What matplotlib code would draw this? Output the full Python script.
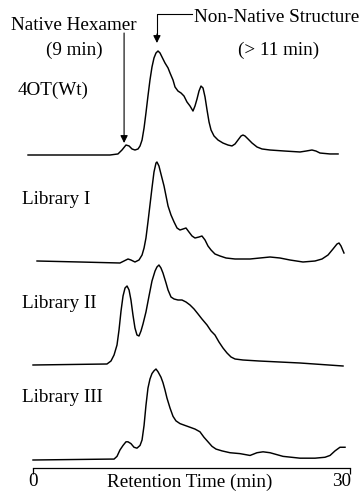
import numpy as np
import matplotlib
matplotlib.use("Agg")
import matplotlib.pyplot as plt

plt.rcParams['font.family'] = ['Liberation Serif', 'DejaVu Serif']

# retention time (min) and relative absorbance (main peak = 1) for each run
t_wt = [-0.47, 7.29, 8.04, 8.42, 8.80, 9.09, 9.37, 9.65, 9.94, 10.13, 10.32,
        10.51, 10.69, 10.88, 11.07, 11.26, 11.45, 11.64, 11.83, 12.02, 12.21,
        12.49, 12.78, 12.97, 13.25, 13.44, 13.72, 14.01, 14.29, 14.57, 14.86,
        15.14, 15.33, 15.52, 15.71, 15.90, 16.09, 16.28, 16.47, 16.66, 16.85,
        17.13, 17.51, 17.98, 18.45, 18.83, 19.12, 19.40, 19.69, 19.87, 20.06,
        20.35, 20.73, 21.20, 21.67, 22.43, 23.85, 25.27, 25.84, 26.40, 26.78,
        27.16, 28.11, 28.87]
a_wt = [0.0, 0.0, 0.010, 0.048, 0.096, 0.087, 0.058, 0.048, 0.058, 0.087, 0.144,
        0.260, 0.404, 0.567, 0.721, 0.846, 0.933, 0.981, 1.0, 0.981, 0.942,
        0.885, 0.837, 0.788, 0.721, 0.654, 0.615, 0.596, 0.567, 0.510, 0.471,
        0.423, 0.471, 0.538, 0.615, 0.663, 0.644, 0.558, 0.433, 0.317, 0.240,
        0.183, 0.144, 0.115, 0.096, 0.087, 0.106, 0.144, 0.183, 0.192, 0.183,
        0.154, 0.115, 0.077, 0.058, 0.048, 0.038, 0.029, 0.038, 0.048, 0.038,
        0.019, 0.010, 0.010]

t_lib1 = [0.38, 4.45, 8.23, 8.61, 8.99, 9.27, 9.65, 10.03, 10.32, 10.51, 10.69,
          10.88, 11.07, 11.26, 11.45, 11.64, 11.73, 11.92, 12.11, 12.40, 12.59,
          12.78, 13.06, 13.35, 13.63, 13.91, 14.20, 14.48, 14.76, 15.05, 15.33,
          15.71, 15.99, 16.28, 16.56, 16.85, 17.22, 17.70, 18.27, 19.12, 20.54,
          21.48, 22.43, 23.37, 24.32, 25.55, 26.69, 27.35, 27.92, 28.39, 28.77,
          28.96, 29.15, 29.43]
a_lib1 = [0.01, 0.0, -0.01, 0.01, 0.03, 0.02, 0.0, 0.02, 0.07, 0.14, 0.24,
          0.40, 0.57, 0.74, 0.90, 0.99, 1.0, 0.96, 0.88, 0.76, 0.66,
          0.56, 0.47, 0.40, 0.34, 0.32, 0.33, 0.34, 0.30, 0.26, 0.24,
          0.25, 0.26, 0.22, 0.16, 0.12, 0.08, 0.06, 0.04, 0.03, 0.03,
          0.04, 0.05, 0.04, 0.02, 0.0, 0.01, 0.03, 0.07, 0.13, 0.18,
          0.19, 0.16, 0.09]

t_lib2 = [0.0, 7.00, 7.38, 7.67, 7.95, 8.14, 8.33, 8.52, 8.71, 8.90, 9.09,
          9.27, 9.46, 9.65, 9.84, 10.03, 10.22, 10.41, 10.69, 10.98, 11.26,
          11.55, 11.73, 11.92, 12.11, 12.30, 12.59, 12.78, 13.06, 13.35, 13.72,
          14.10, 14.48, 14.86, 15.24, 15.62, 15.99, 16.47, 16.85, 17.22, 17.60,
          17.98, 18.36, 18.74, 19.12, 19.87, 21.39, 25.27, 29.34]
a_lib2 = [0.0, 0.01, 0.04, 0.10, 0.20, 0.35, 0.54, 0.69, 0.77, 0.79, 0.75,
          0.65, 0.50, 0.37, 0.30, 0.29, 0.34, 0.41, 0.53, 0.69, 0.84,
          0.94, 0.98, 1.0, 0.97, 0.92, 0.82, 0.75, 0.68, 0.66, 0.65,
          0.65, 0.63, 0.60, 0.56, 0.51, 0.46, 0.40, 0.34, 0.30, 0.23,
          0.17, 0.12, 0.08, 0.06, 0.05, 0.04, 0.02, -0.01]

t_lib3 = [0.0, 7.29, 7.67, 7.95, 8.23, 8.52, 8.80, 8.99, 9.27, 9.56, 9.84,
          10.13, 10.32, 10.51, 10.69, 10.88, 11.07, 11.26, 11.45, 11.64, 11.83,
          12.11, 12.30, 12.49, 12.68, 12.97, 13.25, 13.53, 13.91, 14.38, 14.86,
          15.33, 15.80, 16.18, 16.56, 16.94, 17.32, 17.89, 18.64, 19.59, 20.54,
          21.20, 21.77, 22.43, 23.66, 25.27, 26.69, 27.63, 28.11, 28.58, 29.05,
          29.53]
a_lib3 = [0.0, 0.01, 0.01, 0.04, 0.11, 0.16, 0.20, 0.20, 0.18, 0.14, 0.13,
          0.16, 0.22, 0.38, 0.60, 0.79, 0.89, 0.95, 0.98, 1.0, 0.97,
          0.91, 0.85, 0.77, 0.68, 0.57, 0.48, 0.43, 0.40, 0.38, 0.36,
          0.34, 0.31, 0.25, 0.20, 0.15, 0.12, 0.10, 0.08, 0.07, 0.05,
          0.08, 0.09, 0.08, 0.04, 0.02, 0.02, 0.03, 0.05, 0.10, 0.14,
          0.14]

names = ['4OT(Wt)', 'Library I', 'Library II', 'Library III']
times = [t_wt, t_lib1, t_lib2, t_lib3]
signals = [a_wt, a_lib1, a_lib2, a_lib3]

# stacking: baseline row and peak height of every trace, label position
base = [155, 262, 365, 460]
height = [104, 100, 100, 91]
label_x = [-1.5, -1.05, -1.05, -1.05]
label_y = [90, 200, 303, 397]

fs = 13.8
fig = plt.figure(figsize=(3.62, 4.92), dpi=100)
ax = fig.add_axes([0, 0, 1, 1])
px = 317 / 30.0
ax.set_xlim(-33 / px, (362 - 33) / px)
ax.set_ylim(492, 0)
ax.axis('off')

for name, t, a, b, h, lx, ly in zip(names, times, signals, base, height, label_x, label_y):
    y = b - h * np.array(a)
    ax.plot(t, y, color='black', lw=1.05, solid_joinstyle='round')
    ax.text(lx, ly, name, fontsize=fs, ha='left', va='center')

# time axis
ax.plot([0, 30], [468, 468], color='black', lw=0.9)
ax.vlines([0, 30], 468, 474, color='black', lw=0.9)
ax.text(0, 482, '0', fontsize=fs, ha='center', va='center')
ax.text(29.2, 482, '30', fontsize=fs, ha='center', va='center')
ax.text(14.85, 482, 'Retention Time (min)', fontsize=fs, ha='center', va='center')

# annotations
native_t = 8.62
nonnative_t = 11.73
ax.text(3.9, 25, 'Native Hexamer', fontsize=fs, ha='center', va='center')
ax.text(3.9, 50, '(9 min)', fontsize=fs, ha='center', va='center')
ax.text(23.1, 18, 'Non-Native Structure', fontsize=fs, ha='center', va='center')
ax.text(23.2, 50, '(> 11 min)', fontsize=fs, ha='center', va='center')

arrow = dict(arrowstyle='-|>', color='black', lw=0.8, mutation_scale=11,
             shrinkA=0, shrinkB=0)
ax.annotate('', xy=(native_t, 143), xytext=(native_t, 33), arrowprops=arrow)
ax.plot([15.05, nonnative_t, nonnative_t], [14, 14, 36], color='black', lw=0.8)
ax.annotate('', xy=(nonnative_t, 43), xytext=(nonnative_t, 34), arrowprops=arrow)

fig.savefig('out.png', dpi=100)
